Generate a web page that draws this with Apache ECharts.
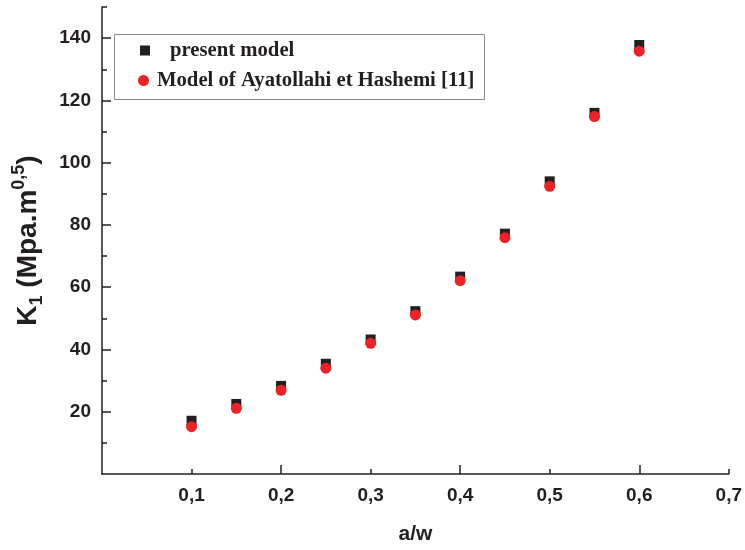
<!DOCTYPE html>
<html>
<head>
<meta charset="utf-8">
<script src="https://cdn.jsdelivr.net/npm/echarts@6/dist/echarts.min.js"></script>
<style>
html,body{margin:0;padding:0;background:#fff;}
#chart{width:745px;height:550px;}
</style>
</head>
<body>
<div id="chart"></div>
<script>
// ---- data ----
const aw = [0.1, 0.15, 0.2, 0.25, 0.3, 0.35, 0.4, 0.45, 0.5, 0.55, 0.6];
const presentModel = [17.1, 22.5, 28.3, 35.4, 43.2, 52.3, 63.4, 77.2, 94.0, 116.0, 137.8];
const ayatollahiModel = [15.2, 21.1, 26.9, 34.0, 42.0, 51.1, 62.1, 75.9, 92.4, 114.8, 135.8];
const seriesNames = ['present model', 'Model of Ayatollahi et Hashemi [11]'];
const xLabelValues = [0.1, 0.2, 0.3, 0.4, 0.5, 0.6, 0.7];
const xMajorTicks = [0.2, 0.4, 0.6];
const xMinorTicks = [0.1, 0.3, 0.5, 0.7];
const yLabelValues = [20, 40, 60, 80, 100, 120, 140];
const yMinorTicks = [10, 30, 50, 70, 90, 110, 130, 150];

const ink = '#231f20';
const red = '#ec2227';
const chart = echarts.init(document.getElementById('chart'), null, {renderer: 'canvas'});

const sans = '"Liberation Sans", Arial, sans-serif';
const serif = '"Liberation Serif", "Times New Roman", serif';
const labelFont = {fontFamily: sans, fontWeight: 'bold', fontSize: 19, color: ink};

function pairs(ys) { return aw.map((x, i) => [x, ys[i]]); }

chart.setOption({
  animation: false,
  backgroundColor: '#fff',
  grid: {left: 102, right: 13, top: 7, bottom: 72, containLabel: false},
  legend: [
    {data: [seriesNames[0]], left: 140, top: 40, orient: 'vertical', itemWidth: 10, itemHeight: 10, padding: 0,
     textStyle: {fontFamily: serif, fontWeight: 'bold', fontSize: 20.7, color: ink, padding: [0, 0, 0, 15]}},
    {data: [seriesNames[1]], left: 138, top: 70, orient: 'vertical', itemWidth: 11, itemHeight: 11, padding: 0,
     textStyle: {fontFamily: serif, fontWeight: 'bold', fontSize: 20.7, color: ink, padding: [0, 0, 0, 3]}}
  ],
  graphic: [{type: 'rect', left: 112, top: 32, shape: {width: 370, height: 65}, style: {fill: 'none', stroke: '#8a8a8a', lineWidth: 1}, z: 0}],
  xAxis: [
    {type: 'value', min: 0, max: 0.7, position: 'bottom',
     axisLine: {show: true, lineStyle: {color: ink, width: 1.5}},
     axisTick: {show: true, inside: true, length: 9, customValues: xMajorTicks, lineStyle: {color: ink, width: 1.5}},
     axisLabel: {show: true, customValues: xLabelValues, margin: 12, ...labelFont, formatter: v => String(Math.round(v * 10) / 10).replace('.', ',')},
     splitLine: {show: false},
     name: 'a/w', nameLocation: 'middle', nameGap: 50,
     nameTextStyle: {fontFamily: sans, fontWeight: 'bold', fontSize: 21, color: ink}},
    {type: 'value', min: 0, max: 0.7, position: 'bottom',
     axisLine: {show: false},
     axisTick: {show: true, inside: true, length: 5, customValues: xMinorTicks, lineStyle: {color: ink, width: 1.5}},
     axisLabel: {show: false}, splitLine: {show: false}}
  ],
  yAxis: [
    {type: 'value', min: 0, max: 150, position: 'left',
     axisLine: {show: true, lineStyle: {color: ink, width: 1.5}},
     axisTick: {show: true, inside: true, length: 9, customValues: yLabelValues, lineStyle: {color: ink, width: 1.5}},
     axisLabel: {show: true, customValues: yLabelValues, margin: 11, ...labelFont},
     splitLine: {show: false},
     name: '{k|K}{sub|1}{k| (Mpa.m}{sup|0,5}{k|)}', nameLocation: 'middle', nameGap: 56, nameRotate: 90,
     nameTextStyle: {
       rich: {
         k: {fontFamily: sans, fontWeight: 'bold', fontSize: 28, color: ink, lineHeight: 36},
         sub: {fontFamily: sans, fontWeight: 'bold', fontSize: 18, color: ink, lineHeight: 36, verticalAlign: 'bottom'},
         sup: {fontFamily: sans, fontWeight: 'bold', fontSize: 18, color: ink, lineHeight: 36, verticalAlign: 'top'}
       }
     }},
    {type: 'value', min: 0, max: 150, position: 'left',
     axisLine: {show: false},
     axisTick: {show: true, inside: true, length: 5, customValues: yMinorTicks, lineStyle: {color: ink, width: 1.5}},
     axisLabel: {show: false}, splitLine: {show: false}}
  ],
  series: [
    {name: seriesNames[0], type: 'scatter', symbol: 'rect', symbolSize: 10, itemStyle: {color: ink, opacity: 1}, data: pairs(presentModel), z: 2},
    {name: seriesNames[1], type: 'scatter', symbol: 'circle', symbolSize: 11, itemStyle: {color: red, opacity: 1}, data: pairs(ayatollahiModel), z: 3}
  ]
});
</script>
</body>
</html>
